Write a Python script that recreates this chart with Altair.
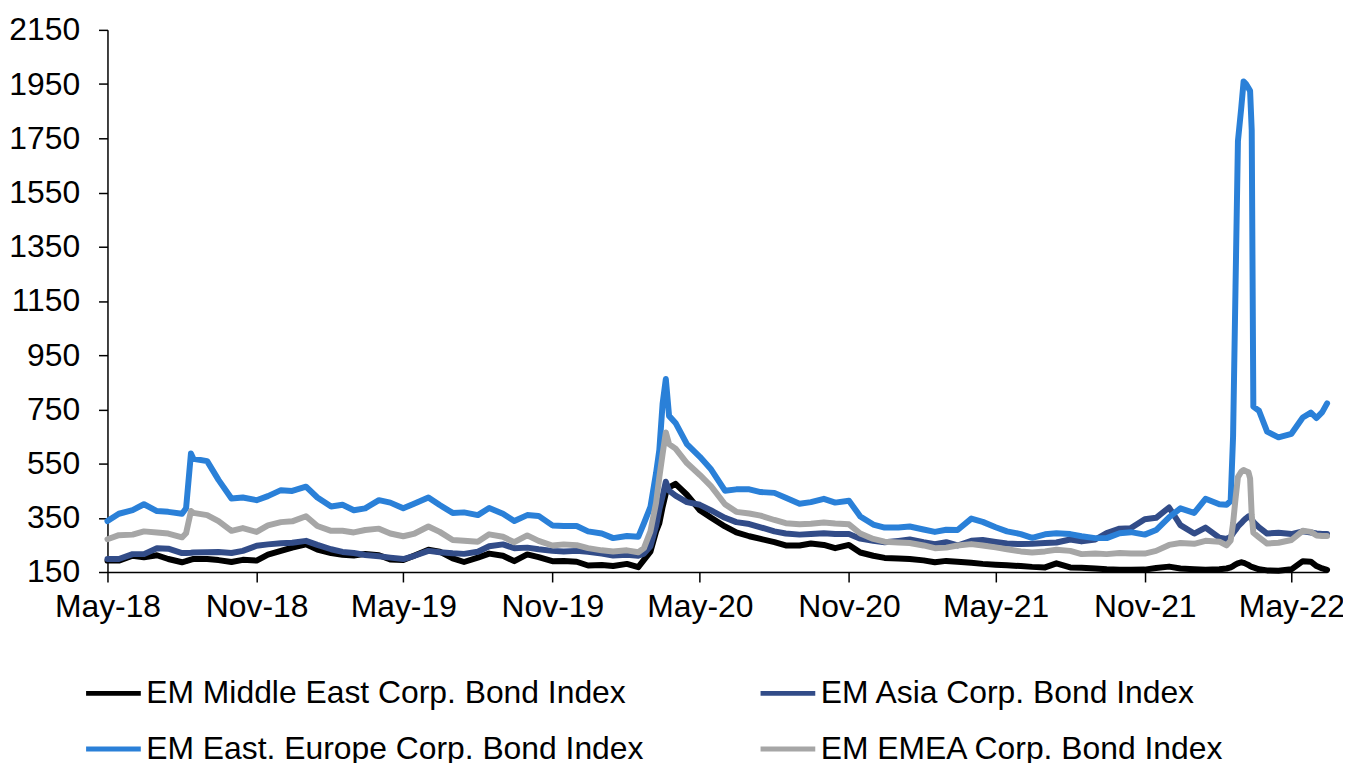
import altair as alt
import pandas as pd

DATES = [
    "2018-05-01", "2018-05-15", "2018-06-01", "2018-06-15", "2018-07-01", "2018-07-15",
    "2018-08-01", "2018-08-06", "2018-08-12", "2018-08-15", "2018-09-01", "2018-09-15",
    "2018-10-01", "2018-10-15", "2018-11-01", "2018-11-15", "2018-12-01", "2018-12-15",
    "2019-01-01", "2019-01-15", "2019-02-01", "2019-02-15", "2019-03-01", "2019-03-15",
    "2019-04-01", "2019-04-15", "2019-05-01", "2019-05-15", "2019-06-01", "2019-06-15",
    "2019-07-01", "2019-07-15", "2019-08-01", "2019-08-15", "2019-09-01", "2019-09-15",
    "2019-10-01", "2019-10-15", "2019-11-01", "2019-11-15", "2019-12-01", "2019-12-15",
    "2020-01-01", "2020-01-15", "2020-02-01", "2020-02-15", "2020-02-22", "2020-03-01",
    "2020-03-08", "2020-03-12", "2020-03-16", "2020-03-20", "2020-03-24", "2020-04-01",
    "2020-04-15", "2020-05-01", "2020-05-15", "2020-06-01", "2020-06-15", "2020-07-01",
    "2020-07-15", "2020-08-01", "2020-08-15", "2020-09-01", "2020-09-15", "2020-10-01",
    "2020-10-15", "2020-11-01", "2020-11-15", "2020-12-01", "2020-12-15",
    "2021-01-01", "2021-01-15", "2021-02-01", "2021-02-15", "2021-03-01", "2021-03-15",
    "2021-04-01", "2021-04-15", "2021-05-01", "2021-05-15", "2021-06-01", "2021-06-15",
    "2021-07-01", "2021-07-15", "2021-08-01", "2021-08-15", "2021-09-01", "2021-09-15",
    "2021-10-01", "2021-10-15", "2021-11-01", "2021-11-15", "2021-12-01", "2021-12-15",
    "2022-01-01", "2022-01-15", "2022-02-01", "2022-02-10", "2022-02-15", "2022-02-18",
    "2022-02-21", "2022-02-24", "2022-02-28", "2022-03-03", "2022-03-06", "2022-03-09",
    "2022-03-11", "2022-03-13", "2022-03-15", "2022-03-22", "2022-04-01", "2022-04-15",
    "2022-05-01", "2022-05-15", "2022-05-25", "2022-06-01", "2022-06-08", "2022-06-14",
]

MIDDLE_EAST = [
    192, 192, 210, 204, 212, 198, 186, 190, 196, 198, 198, 194, 187, 195, 192, 214, 228, 240,
    252, 233, 220, 214, 211, 217, 212, 196, 194, 211, 232, 225, 200, 187, 203, 218, 210, 190,
    215, 205, 190, 191, 188, 174,
    176, 172, 180, 168, 195, 225, 300, 330, 390, 440, 462, 475, 435, 378, 350, 318, 296, 282,
    272, 260, 248, 248, 255, 250, 238, 250, 222, 210, 202,
    200, 198, 193, 186, 191, 188, 184, 180, 177, 175, 172, 169, 167, 182, 167, 166, 163, 160,
    158, 158, 159, 165, 170, 163,
    160, 158, 160, 163, 167, 172, 178, 182, 186, 184, 180, 176, 172, 169, 167, 160, 156, 155,
    160, 190, 188, 172, 163, 158,
]

ASIA = [
    198, 198, 216, 216, 238, 236, 220, 220, 221, 222, 223, 224, 220, 228, 247, 252, 256, 258,
    265, 250, 234, 224, 220, 213, 208, 203, 198, 210, 228, 223, 219, 217, 225, 245, 252, 238,
    240, 234, 228, 226, 228, 225,
    218, 211, 214, 210, 218, 245, 320, 381, 430, 483, 450, 432, 408, 398, 377, 350, 334, 327,
    315, 300, 292, 288, 290, 293, 290, 290, 273, 265, 260,
    265, 270, 260, 253, 260, 248, 265, 268, 261, 255, 253, 254, 257, 259, 270, 263, 270, 294,
    310, 312, 345, 350, 388, 323,
    292, 314, 277, 272, 280, 293, 305, 318, 330, 340, 348, 355, 357, 345, 335, 315, 292, 295,
    290, 300, 296, 292, 290, 290,
]

EAST_EUROPE = [
    338, 365, 378, 400, 375, 372, 365, 385, 587, 568, 559, 490, 421, 425, 415, 430, 452, 449,
    465, 425, 392, 398, 378, 385, 415, 406, 385, 403, 425, 397, 368, 370, 360, 386, 365, 338,
    360, 357, 322, 320, 320, 300,
    292, 275, 283, 280, 330, 390, 516, 600, 770, 862, 726, 700, 622, 575, 528, 450, 455, 455,
    445, 442, 424, 402, 408, 420, 406, 413, 355, 325, 314,
    314, 318, 307, 298, 306, 305, 347, 335, 315, 300, 290, 276, 289, 293, 290, 282, 275, 275,
    293, 297, 288, 305, 352, 385,
    368, 420, 400, 398, 412, 650, 1200, 1740, 1860, 1960, 1950, 1935, 1925, 1780, 760, 745, 668, 647,
    660, 720, 738, 718, 740, 772,
]

EMEA = [
    271, 286, 288, 300, 296, 292, 278, 293, 375, 368, 360, 338, 302, 312, 298, 322, 334, 337,
    356, 320, 302, 302, 296, 305, 310, 292, 282, 292, 318, 298, 268, 265, 262, 289, 280, 260,
    285, 265, 248, 252, 249, 238,
    230, 226, 230, 223, 238, 300, 406, 500, 585, 665, 622, 605, 552, 508, 466, 400, 372, 366,
    358, 342, 330, 326, 328, 333, 329, 326, 292, 272, 262,
    259, 257, 248, 238, 240, 248, 253, 248, 241, 234, 226, 222, 226, 232, 228, 216, 218, 216,
    220, 218, 218, 228, 250, 257,
    254, 265, 262, 248, 266, 330, 420, 500, 520, 526, 522, 518, 495, 360, 295, 278, 255, 258,
    268, 302, 298, 285, 283, 283,
]

SERIES = [
    "EM Middle East Corp. Bond Index",
    "EM Asia Corp. Bond Index",
    "EM East. Europe Corp. Bond Index",
    "EM EMEA Corp. Bond Index",
]
COLORS = ["#000000", "#324C88", "#2A80D8", "#A6A6A6"]
Y_TICKS = list(range(150, 2151, 200))
X_TICK_MONTHS = [(2018, 5), (2018, 11), (2019, 5), (2019, 11), (2020, 5),
                 (2020, 11), (2021, 5), (2021, 11), (2022, 5)]

rows = []
for name, vals in zip(SERIES, [MIDDLE_EAST, ASIA, EAST_EUROPE, EMEA]):
    for d, v in zip(DATES, vals):
        rows.append({"date": d, "series": name, "value": v})
df = pd.DataFrame(rows)

FONT = "Liberation Sans"
FS = 32

x_values = [alt.DateTime(year=y, month=m, date=1, utc=True) for y, m in X_TICK_MONTHS]

chart = (
    alt.Chart(df)
    .mark_line(strokeWidth=6, strokeJoin="round", strokeCap="round")
    .encode(
        x=alt.X(
            "date:T",
            scale=alt.Scale(
                type="utc",
                domain=[alt.DateTime(year=2018, month=5, date=1, utc=True),
                        alt.DateTime(year=2022, month=6, date=14, utc=True)],
            ),
            axis=alt.Axis(
                title=None,
                values=x_values,
                labelExpr="utcFormat(datum.value, '%b-%y')",
                grid=False,
                tickSize=10,
                labelPadding=10,
                labelFlush=False,
                labelOverlap=False,
            ),
        ),
        y=alt.Y(
            "value:Q",
            scale=alt.Scale(domain=[150, 2150], nice=False, zero=False),
            axis=alt.Axis(
                title=None,
                values=Y_TICKS,
                format="d",
                grid=False,
                tickSize=9,
                labelPadding=19,
            ),
        ),
        color=alt.Color(
            "series:N",
            scale=alt.Scale(domain=SERIES, range=COLORS),
            legend=alt.Legend(
                title=None,
                orient="none",
                direction="horizontal",
                legendX=-24,
                legendY=637,
                columns=2,
                symbolType="stroke",
                symbolSize=3025,
                symbolStrokeWidth=5,
                labelFontSize=FS,
                labelFont=FONT,
                labelColor="#000000",
                labelOffset=3,
                labelLimit=1000,
                columnPadding=107,
                rowPadding=10,
            ),
        ),
    )
    .properties(
        width=1226,
        height=545,
        autosize="none",
        padding={"left": 100, "top": 20, "right": 16, "bottom": 190},
    )
    .configure_view(stroke=None)
    .configure_axis(
        domainColor="#000000",
        domainWidth=1.5,
        tickColor="#000000",
        tickWidth=1.5,
        labelFontSize=FS,
        labelFont=FONT,
        labelColor="#000000",
    )
)

chart.save("out.html", embed_options={"renderer": "svg", "actions": False})
